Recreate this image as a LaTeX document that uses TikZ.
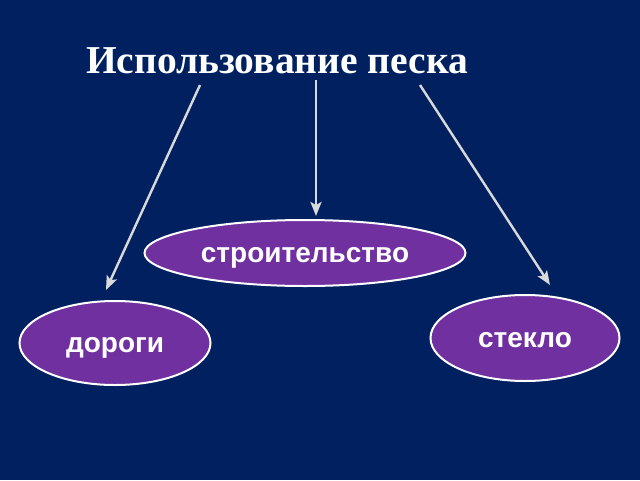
\documentclass[tikz,border=0pt]{standalone}
\usepackage{fontspec}
\setmainfont{Liberation Serif}
\newfontfamily\labelfont{Liberation Sans}
\usepackage{tikz}
\usepackage{xcolor}
\usetikzlibrary{arrows.meta,shapes.geometric}
\definecolor{bgnavy}{RGB}{0,32,96}
\definecolor{usepurple}{RGB}{112,48,160}
\definecolor{arrowgray}{RGB}{217,217,217}
\tikzset{
  use/.style={ellipse,draw=white,line width=2pt,fill=usepurple,text=white,
    font=\labelfont\bfseries\fontsize{28}{32}\selectfont,inner sep=0pt,
    text height=18pt,text depth=0pt},
  usearrow/.style={draw=arrowgray,line width=2.4pt,-{Stealth[length=14pt,width=11pt,inset=3pt]}}
}
\begin{document}
\begin{tikzpicture}[x=1pt,y=-1pt]
\fill[bgnavy] (0,0) rectangle (640,480);
\useasboundingbox (0,0) rectangle (640,480);
\node[text=white,font=\bfseries\fontsize{39.5}{44}\selectfont] (title) at (277,61) {Использование песка};
\node[use,minimum width=321pt,minimum height=66pt] (build) at (305,253) {строительство};
\node[use,minimum width=191pt,minimum height=84pt] (road) at (115,343) {дороги};
\node[use,minimum width=189pt,minimum height=86pt] (glass) at (525,338) {стекло};
\coordinate (s1) at (200,85);
\coordinate (s2) at (316,80);
\coordinate (s3) at (420,85);
\coordinate (e1) at (106,290);
\coordinate (e2) at (316,216);
\coordinate (e3) at (550,285);
\draw[usearrow] (s1) -- (e1);
\draw[usearrow] (s2) -- (e2);
\draw[usearrow] (s3) -- (e3);
\end{tikzpicture}
\end{document}
